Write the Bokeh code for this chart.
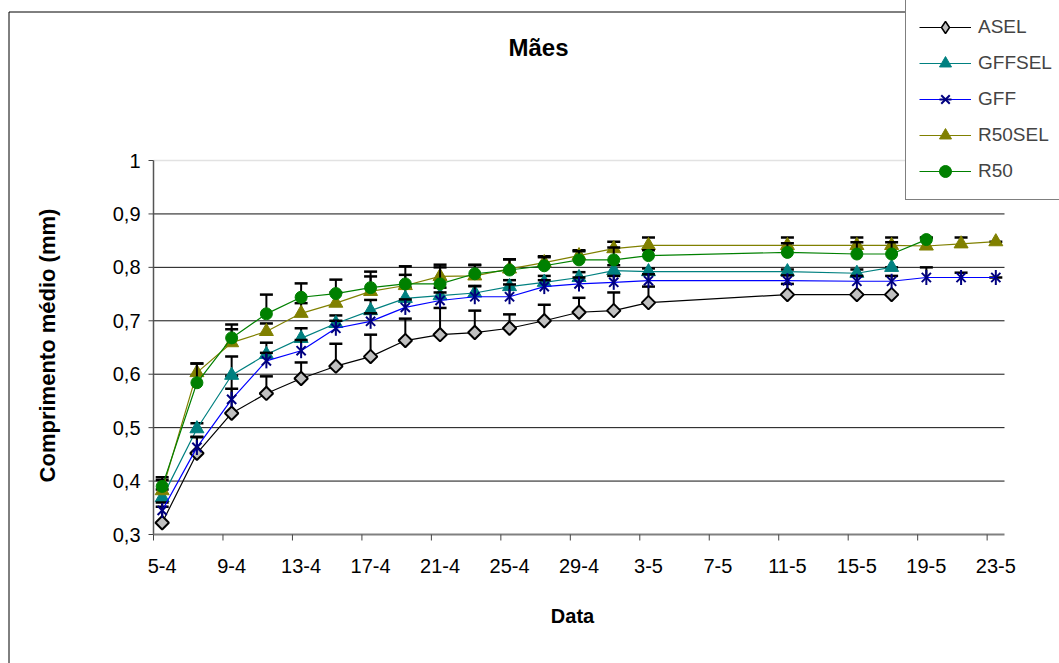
import math
from datetime import date

from bokeh.plotting import figure
from bokeh.models import Legend, LegendItem, ColumnDataSource, Range1d
from bokeh.core.properties import value
from bokeh.embed import file_html
from bokeh.resources import INLINE

# ---- data -----------------------------------------------------------------
dates_all = ["5-4", "7-4", "9-4", "11-4", "13-4", "15-4", "17-4", "19-4",
             "21-4", "23-4", "25-4", "27-4", "29-4", "1-5", "3-5", "11-5",
             "15-5", "17-5", "19-5", "21-5", "23-5"]

xtick_labels = ["5-4", "9-4", "13-4", "17-4", "21-4", "25-4", "29-4", "3-5",
                "7-5", "11-5", "15-5", "19-5", "23-5"]

yticks = [0.3, 0.4, 0.5, 0.6, 0.7, 0.8, 0.9, 1.0]
ytick_labels = ["0,3", "0,4", "0,5", "0,6", "0,7", "0,8", "0,9", "1"]

asel_dates = dates_all[:18]
asel = [0.322, 0.452, 0.527, 0.564, 0.592, 0.615, 0.633, 0.663, 0.674,
        0.678, 0.686, 0.700, 0.716, 0.719, 0.734, 0.749, 0.749, 0.749]
asel_err = [0.030, 0.030, 0.070, 0.032, 0.030, 0.042, 0.041, 0.041, 0.050,
            0.041, 0.026, 0.030, 0.027, 0.034, 0.030, 0.020, 0.000, 0.000]

gffsel_dates = dates_all[:18]
gffsel = [0.369, 0.498, 0.598, 0.637, 0.667, 0.695, 0.719, 0.742, 0.747,
          0.752, 0.764, 0.772, 0.781, 0.794, 0.792, 0.792, 0.789, 0.800]
gffsel_err = [0.015, 0.010, 0.035, 0.022, 0.019, 0.015, 0.020, 0.020, 0.015,
              0.013, 0.012, 0.012, 0.010, 0.010, 0.006, 0.004, 0.007, 0.000]

gff_dates = dates_all
gff = [0.345, 0.463, 0.553, 0.625, 0.644, 0.686, 0.699, 0.725, 0.738, 0.745,
       0.745, 0.764, 0.769, 0.772, 0.775, 0.775, 0.774, 0.774, 0.781, 0.781,
       0.781]
gff_err = [0.015, 0.020, 0.020, 0.015, 0.020, 0.014, 0.015, 0.015, 0.015,
           0.020, 0.023, 0.012, 0.012, 0.012, 0.012, 0.010, 0.010, 0.010,
           0.019, 0.009, 0.000]

r50sel_dates = dates_all
r50sel = [0.382, 0.603, 0.659, 0.680, 0.714, 0.733, 0.755, 0.766, 0.783,
          0.784, 0.797, 0.809, 0.822, 0.835, 0.841, 0.841, 0.841, 0.841,
          0.840, 0.844, 0.848]
r50sel_err = [0.020, 0.017, 0.025, 0.015, 0.019, 0.020, 0.028, 0.020, 0.017,
              0.020, 0.018, 0.012, 0.010, 0.013, 0.015, 0.015, 0.015, 0.015,
              0.015, 0.012, 0.000]

r50_dates = dates_all[:19]
r50 = [0.390, 0.584, 0.668, 0.713, 0.744, 0.751, 0.762, 0.769, 0.769, 0.788,
       0.795, 0.803, 0.814, 0.814, 0.822, 0.828, 0.825, 0.825, 0.852]
r50_err = [0.017, 0.036, 0.025, 0.036, 0.026, 0.026, 0.030, 0.033, 0.036,
           0.017, 0.020, 0.016, 0.016, 0.023, 0.010, 0.017, 0.022, 0.022,
           0.004]


def day(label):
    """Days elapsed since 5 April for a 'd-m' label."""
    d, m = label.split("-")
    return (date(2000, int(m), int(d)) - date(2000, 4, 5)).days


# ---- layout: the frame fills the canvas, the plot box sits inside it -------
W, H = 1059, 663
PL, PR, PT, PB = 153, 1004, 160, 534          # plot box in canvas pixels
X0, X1 = -0.5, day(xtick_labels[-1]) + 0.5     # one slot per day
Y0, Y1 = yticks[0], yticks[-1]
SX = (PR - PL) / (X1 - X0)
SY = (PB - PT) / (Y1 - Y0)


def dx(px):
    return X0 + (px - PL) / SX


def dy(py):
    return Y0 + (PB - py) / SY


FONT = value("Liberation Sans")
NAN = float("nan")

p = figure(width=W, height=H,
           x_range=Range1d(dx(0), dx(W)), y_range=Range1d(dy(H), dy(0)),
           output_backend="svg", toolbar_location=None,
           x_axis_location=None, y_axis_location=None, min_border=0,
           background_fill_color="white", border_fill_color="white",
           outline_line_color=None)
p.grid.visible = False

# outer chart border (left and top edges)
p.line(x=[dx(8.5), dx(8.5), dx(W + 20)], y=[dy(H + 20), dy(11.5), dy(11.5)],
       line_color="black", line_width=1)

# horizontal gridlines
p.segment(x0=[X0] * 6, x1=[X1] * 6, y0=yticks[1:-1], y1=yticks[1:-1],
          line_color="#111111", line_width=1)
p.segment(x0=[X0], x1=[X1], y0=[Y1], y1=[Y1], line_color="#e2e2e2",
          line_width=1.5)

# y axis
p.segment(x0=[X0], x1=[X0], y0=[Y0], y1=[Y1], line_color="#555555",
          line_width=1.5)
p.segment(x0=[dx(PL - 5)] * len(yticks), x1=[X0] * len(yticks),
          y0=yticks, y1=yticks, line_color="#444444", line_width=1)
p.text(x=[X0] * len(yticks), y=yticks, text=ytick_labels, x_offset=-13,
       text_align="right", text_baseline="middle", text_font=FONT,
       text_font_size="20px", text_color="black")

# x axis: tick marks on day boundaries, labels under the day centres
xt = [day(s) for s in xtick_labels]
p.segment(x0=[X0], x1=[X1], y0=[Y0], y1=[Y0], line_color="#808080",
          line_width=2)
p.segment(x0=[t - 0.5 for t in xt], x1=[t - 0.5 for t in xt],
          y0=[Y0] * len(xt), y1=[dy(PB + 6)] * len(xt),
          line_color="#444444", line_width=1)
p.text(x=xt, y=[Y0] * len(xt), text=xtick_labels, y_offset=31,
       text_align="center", text_baseline="middle", text_font=FONT,
       text_font_size="20px", text_color="black")

# titles
p.text(x=[dx(538)], y=[dy(47)], text=["Mães"], text_align="center",
       text_baseline="middle", text_font=FONT, text_font_style="bold",
       text_font_size="24px", text_color="black")
p.text(x=[dx(572)], y=[dy(615)], text=["Data"], text_align="center",
       text_baseline="middle", text_font=FONT, text_font_style="bold",
       text_font_size="20px", text_color="black")
p.text(x=[dx(47)], y=[dy(345)], text=["Comprimento médio (mm)"],
       angle=math.pi / 2, text_align="center", text_baseline="middle",
       text_font=FONT, text_font_style="bold", text_font_size="22px",
       text_color="black")

# ---- series ---------------------------------------------------------------
series = [
    ("ASEL", asel_dates, asel, asel_err, "#000000",
     dict(marker="square", angle=math.pi / 4, size=9.5,
          fill_color="#c0c0c0", line_color="black", line_width=2)),
    ("GFFSEL", gffsel_dates, gffsel, gffsel_err, "#008080",
     dict(marker="triangle", size=14, fill_color="#008080",
          line_color="#008080", line_width=1)),
    ("GFF", gff_dates, gff, gff_err, "#0000ff",
     dict(marker="x", size=13, line_color="#000080", line_width=2)),
    ("R50SEL", r50sel_dates, r50sel, r50sel_err, "#808000",
     dict(marker="triangle", size=14, fill_color="#808000",
          line_color="#808000", line_width=1)),
    ("R50", r50_dates, r50, r50_err, "#008000",
     dict(marker="circle", size=12, fill_color="#008000",
          line_color="#008000", line_width=1)),
]

legend_items = []
for name, dts, vals, errs, color, mk in series:
    src = ColumnDataSource(dict(
        x=[day(s) for s in dts], y=vals,
        top=[v + e for v, e in zip(vals, errs)]))
    # upward error bars with caps
    p.segment(x0="x", y0="y", x1="x", y1="top", source=src,
              line_color="black", line_width=2)
    p.scatter(x="x", y="top", source=src, marker="dash", size=13,
              line_color="black", line_width=2.5)
    ln = p.line(x="x", y="y", source=src, line_color=color, line_width=1.2)
    pts = p.scatter(x="x", y="y", source=src, **mk)
    rends = [ln, pts]
    if name == "ASEL":
        # the legend swatch shows the marker upright as a diamond
        key = dict(mk, marker="diamond", angle=0, line_width=1.5)
        rends = [ln, p.scatter(x=[NAN], y=[NAN], **key)]
    if name == "GFF":
        rends.append(p.scatter(x="x", y="y", source=src, marker="dash",
                               angle=math.pi / 2, size=15,
                               line_color="#000080", line_width=2))
    legend_items.append(LegendItem(label=name, renderers=rends))

legend = Legend(items=legend_items, location=(905, H - 200),
                label_text_font="Liberation Sans",
                label_text_font_size="19px",
                glyph_width=52, glyph_height=30, label_standoff=7,
                padding=13, spacing=6, margin=0,
                border_line_color="black", border_line_width=1,
                background_fill_color="white", background_fill_alpha=1)
p.add_layout(legend, "center")

open("out.html", "w").write(file_html(p, INLINE))
